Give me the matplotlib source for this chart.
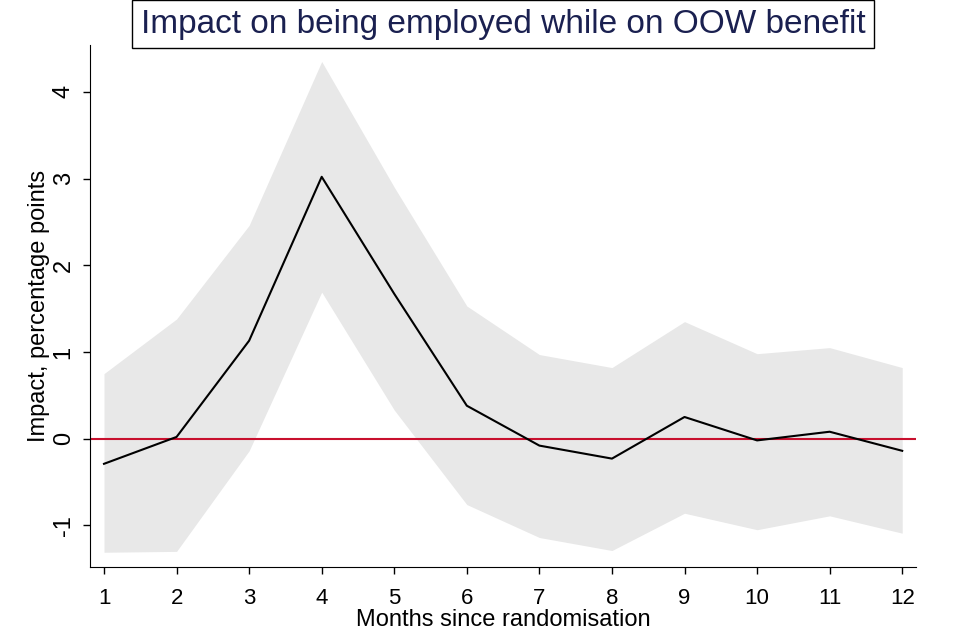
import matplotlib
matplotlib.use("Agg")
import matplotlib.pyplot as plt

months = [1, 2, 3, 4, 5, 6, 7, 8, 9, 10, 11, 12]
impact = [-0.29, 0.02, 1.13, 3.02, 1.67, 0.38, -0.08, -0.23, 0.25, -0.02, 0.08, -0.14]
ci_upper = [0.75, 1.38, 2.46, 4.35, 2.90, 1.53, 0.97, 0.82, 1.35, 0.98, 1.05, 0.82]
ci_lower = [-1.31, -1.30, -0.14, 1.69, 0.33, -0.76, -1.14, -1.29, -0.86, -1.05, -0.89, -1.09]
y_ticks = [-1, 0, 1, 2, 3, 4]

font = "Liberation Sans"

fig = plt.figure(figsize=(9.6, 6.4), dpi=100)
ax = fig.add_axes([90 / 960, 1 - 567 / 640, (916 - 90) / 960, (567 - 45) / 640])

ax.fill_between(months, ci_lower, ci_upper, color="#e8e8e8", linewidth=0)
ax.axhline(0, color="#c8102e", linewidth=1.5)
ax.plot(months, impact, color="black", linewidth=1.5)

ax.set_xlim(0.807, 12.19)
ax.set_ylim(-1.48, 4.54)
ax.spines["top"].set_visible(False)
ax.spines["right"].set_visible(False)

ax.set_xticks(months)
ax.set_xticklabels([str(m) for m in months], fontfamily=font, fontsize=16)
ax.set_yticks(y_ticks)
ax.set_yticklabels([str(t) for t in y_ticks], fontfamily=font, fontsize=17,
                   rotation=90, va="center")
ax.tick_params(axis="both", length=5, width=1, color="black")
ax.tick_params(axis="x", pad=10)
ax.tick_params(axis="y", pad=6)

ax.set_xlabel("Months since randomisation", fontfamily=font, fontsize=17, labelpad=0)
ax.set_ylabel("Impact, percentage points", fontfamily=font, fontsize=17, labelpad=2)

fig.text(503 / 960, 1 - 24 / 640, "Impact on being employed while on OOW benefit",
         fontfamily=font, fontsize=24, color="#1a2050", ha="center", va="center",
         bbox=dict(boxstyle="square,pad=0.25", facecolor="white", edgecolor="black", linewidth=1))

fig.savefig("out.png", dpi=100)
